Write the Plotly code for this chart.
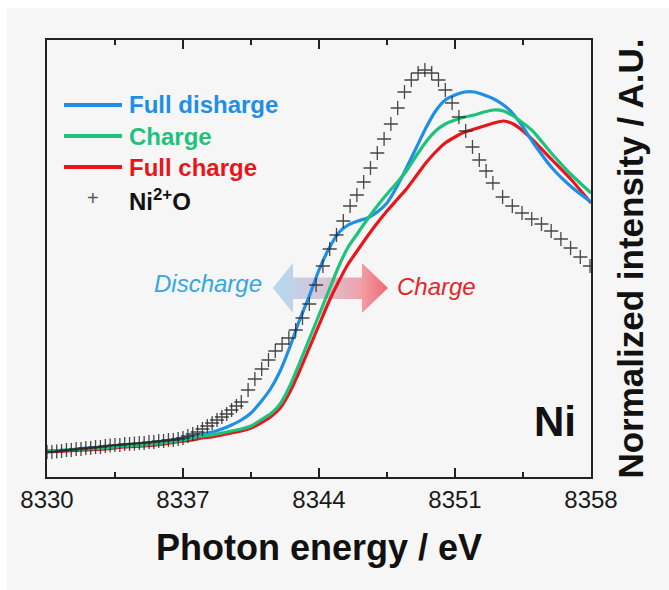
import plotly.graph_objects as go

# ---------------- data ----------------
LINE_E = [8330, 8331, 8332, 8333, 8334, 8335, 8336, 8337, 8337.5, 8338, 8338.5, 8339, 8339.5,
          8340, 8340.5, 8341, 8341.5, 8342, 8342.5, 8343, 8343.5, 8344, 8344.5, 8345, 8345.5,
          8346, 8346.5, 8347, 8347.5, 8348, 8348.5, 8349, 8349.5, 8350, 8350.5, 8351, 8351.5,
          8352, 8352.5, 8353, 8353.5, 8354, 8354.5, 8355, 8356, 8357, 8358]

full_discharge = [0.104, 0.108, 0.116, 0.120, 0.128, 0.132, 0.144, 0.156, 0.164, 0.172, 0.180, 0.192, 0.208,
                  0.228, 0.256, 0.300, 0.352, 0.424, 0.520, 0.628, 0.724, 0.828, 0.912, 0.976, 1.008,
                  1.024, 1.036, 1.060, 1.096, 1.160, 1.236, 1.316, 1.396, 1.464, 1.508, 1.528, 1.540,
                  1.540, 1.528, 1.512, 1.488, 1.452, 1.400, 1.340, 1.236, 1.160, 1.100]

charge = [0.104, 0.108, 0.112, 0.116, 0.124, 0.128, 0.136, 0.148, 0.156, 0.164, 0.168, 0.176, 0.184,
          0.192, 0.204, 0.228, 0.252, 0.292, 0.364, 0.456, 0.552, 0.648, 0.744, 0.840, 0.920,
          0.976, 1.032, 1.084, 1.132, 1.176, 1.224, 1.284, 1.340, 1.384, 1.412, 1.428, 1.440,
          1.448, 1.460, 1.468, 1.464, 1.444, 1.416, 1.384, 1.292, 1.208, 1.136]

full_charge = [0.100, 0.104, 0.108, 0.112, 0.120, 0.124, 0.132, 0.144, 0.148, 0.156, 0.160, 0.168, 0.176,
               0.184, 0.196, 0.216, 0.240, 0.276, 0.340, 0.424, 0.516, 0.608, 0.700, 0.780, 0.852,
               0.908, 0.964, 1.016, 1.064, 1.108, 1.152, 1.204, 1.256, 1.300, 1.336, 1.360, 1.380,
               1.392, 1.404, 1.416, 1.424, 1.412, 1.384, 1.348, 1.268, 1.188, 1.096]

NIO_E = [8330.00, 8330.25, 8330.50, 8330.75, 8331.00, 8331.25, 8331.50, 8331.75, 8332.00, 8332.25,
         8332.50, 8332.75, 8333.00, 8333.25, 8333.50, 8333.75, 8334.00, 8334.25, 8334.50, 8334.75,
         8335.00, 8335.25, 8335.50, 8335.75, 8336.00, 8336.25, 8336.50, 8336.75, 8337.00, 8337.25,
         8337.50, 8337.75, 8338.00, 8338.25, 8338.50, 8338.75, 8339.00, 8339.25, 8339.50, 8339.75,
         8340.00, 8340.35, 8340.70, 8341.05, 8341.40, 8341.75, 8342.10, 8342.45, 8342.80, 8343.15,
         8343.50, 8343.85, 8344.20, 8344.55, 8344.90, 8345.25, 8345.60, 8345.95, 8346.30, 8346.65,
         8347.00, 8347.35, 8347.70, 8348.05, 8348.40, 8348.75, 8349.10, 8349.45, 8349.80, 8350.15,
         8350.50, 8350.85, 8351.20, 8351.55, 8351.90, 8352.25, 8352.60, 8352.95, 8353.45, 8353.95,
         8354.45, 8354.95, 8355.45, 8355.95, 8356.45, 8356.95, 8357.45, 8357.95]
nio = [0.100, 0.100, 0.102, 0.104, 0.108, 0.108, 0.112, 0.112, 0.116, 0.116,
       0.120, 0.120, 0.124, 0.126, 0.128, 0.128, 0.132, 0.132, 0.134, 0.136,
       0.136, 0.140, 0.140, 0.144, 0.144, 0.148, 0.148, 0.152, 0.156, 0.164,
       0.172, 0.180, 0.192, 0.204, 0.216, 0.228, 0.240, 0.252, 0.268, 0.284,
       0.300, 0.348, 0.392, 0.432, 0.468, 0.504, 0.532, 0.556, 0.588, 0.636,
       0.692, 0.768, 0.844, 0.912, 0.968, 1.024, 1.084, 1.128, 1.180, 1.236,
       1.296, 1.352, 1.412, 1.476, 1.540, 1.588, 1.616, 1.628, 1.616, 1.588,
       1.548, 1.496, 1.440, 1.384, 1.320, 1.268, 1.224, 1.176, 1.120, 1.084,
       1.056, 1.032, 1.012, 0.984, 0.952, 0.916, 0.880, 0.844]

X_TICKS = [8330, 8337, 8344, 8351, 8358]
X_MINOR = [8333.5, 8340.5, 8347.5, 8354.5]

# ---------------- styling ----------------
FONT = "Liberation Sans, Arial, sans-serif"
BLUE = "#1f8fe6"
GREEN = "#1ec27c"
RED = "#e8161b"
BG = "#f6f6f6"

# decorative double arrow (energy / intensity units)
ARROW_X = [8341.63, 8342.66, 8342.66, 8346.21, 8346.21, 8347.55, 8346.21, 8346.21, 8342.66, 8342.66, 8341.63]
ARROW_Y = [0.756, 0.856, 0.798, 0.798, 0.856, 0.756, 0.656, 0.712, 0.712, 0.656, 0.756]

fig = go.Figure()

fig.add_trace(go.Scatter(
    x=ARROW_X, y=ARROW_Y, mode="lines", fill="toself",
    line=dict(width=0, color="rgba(0,0,0,0)"),
    fillgradient=dict(type="horizontal",
                      colorscale=[[0, "#b3daf2"], [0.45, "#d9c3d6"], [0.75, "#f0a2aa"], [1, "#ee6a72"]]),
    hoverinfo="skip", showlegend=False))

for name, vals, col in [("Full charge", full_charge, RED),
                        ("Full disharge", full_discharge, BLUE),
                        ("Charge", charge, GREEN)]:
    fig.add_trace(go.Scatter(x=LINE_E, y=vals, mode="lines", name=name,
                             line=dict(color=col, width=3.2, shape="spline", smoothing=0.6),
                             showlegend=False))

fig.add_trace(go.Scatter(x=NIO_E, y=nio, mode="markers", name="Ni2+O",
                         marker=dict(symbol="cross-thin", size=10,
                                     line=dict(width=1.3, color="rgba(40,40,40,0.85)")),
                         showlegend=False))

# manual legend
legend_items = [("Full disharge", BLUE, 105), ("Charge", GREEN, 136), ("Full charge", RED, 167)]
shapes = [dict(type="rect", xref="paper", yref="paper",
               x0=(7 - 47) / 544, x1=(669 - 47) / 544, y0=(477 - 590) / 437, y1=(477 - 8) / 437,
               fillcolor=BG, line=dict(width=0), layer="below")]
annotations = []
for label, col, py in legend_items:
    yp = (477 - py) / 437
    shapes.append(dict(type="line", xref="paper", yref="paper",
                       x0=(64 - 47) / 544, x1=(122 - 47) / 544, y0=yp, y1=yp,
                       line=dict(color=col, width=4)))
    annotations.append(dict(xref="paper", yref="paper", x=(127 - 47) / 544, y=yp,
                            xanchor="left", yanchor="middle", showarrow=False,
                            text="<b>%s</b>" % label, font=dict(family=FONT, size=24, color=col)))
yp = (477 - 200) / 437
annotations.append(dict(xref="paper", yref="paper", x=(93 - 47) / 544, y=yp + 0.004,
                        xanchor="center", yanchor="middle", showarrow=False,
                        text="+", font=dict(family=FONT, size=20, color="#555555")))
annotations.append(dict(xref="paper", yref="paper", x=(127 - 47) / 544, y=yp,
                        xanchor="left", yanchor="middle", showarrow=False,
                        text="<b>Ni<sup>2+</sup>O</b>", font=dict(family=FONT, size=24, color="#111111")))

annotations += [
    dict(x=8338.29, y=0.776, xref="x", yref="y", showarrow=False, text="<i>Discharge</i>",
         font=dict(family=FONT, size=24, color="#35a6e2")),
    dict(x=8350.07, y=0.764, xref="x", yref="y", showarrow=False, text="<i>Charge</i>",
         font=dict(family=FONT, size=24, color="#e3262b")),
    dict(x=8356.15, y=0.224, xref="x", yref="y", showarrow=False, text="<b>Ni</b>",
         font=dict(family=FONT, size=42, color="#111111")),
]

fig.update_layout(
    width=669, height=590, autosize=False,
    margin=dict(l=47, r=78, t=40, b=113),
    paper_bgcolor="white", plot_bgcolor=BG,
    font=dict(family=FONT, color="#1a1a1a"),
    shapes=shapes, annotations=annotations, showlegend=False,
    xaxis=dict(range=[8330, 8358], tickvals=X_TICKS, ticktext=[str(t) for t in X_TICKS],
               ticks="inside", ticklen=9, tickwidth=2, tickcolor="#222",
               showline=True, linewidth=2, linecolor="#222", mirror="ticks",
               showgrid=False, zeroline=False,
               tickfont=dict(family=FONT, size=24, color="#1a1a1a"),
               minor=dict(tickvals=X_MINOR, ticks="inside", ticklen=5, tickwidth=2, tickcolor="#222"),
               title=dict(text="<b>Photon energy / eV</b>", standoff=23,
                          font=dict(family=FONT, size=36, color="#111"))),
    yaxis=dict(range=[0, 1.748], side="right", showticklabels=False, ticks="",
               showline=True, linewidth=2, linecolor="#222", mirror=True,
               showgrid=False, zeroline=False,
               title=dict(text="<b>Normalized intensity / A.U.</b>", standoff=26,
                          font=dict(family=FONT, size=35, color="#111"))),
)

fig.write_html("out.html")
